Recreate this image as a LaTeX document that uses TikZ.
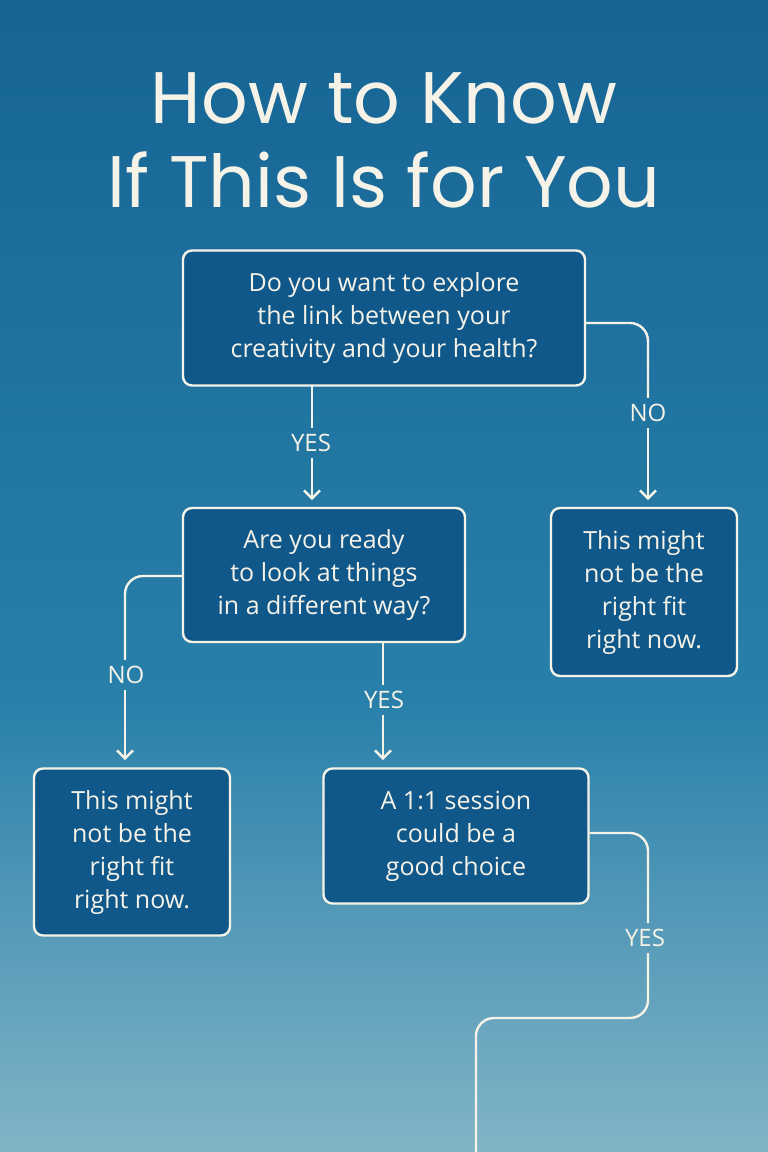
\documentclass[tikz,border=0pt]{standalone}
\usepackage{fontspec}
\setmainfont{Open Sans}
\newfontfamily\titlefont{Poppins}
\usetikzlibrary{arrows.meta,calc}
\definecolor{bgtop}{RGB}{22,100,148}
\definecolor{bgmid}{RGB}{40,128,170}
\definecolor{bgbot}{RGB}{130,180,198}
\definecolor{boxfill}{RGB}{16,88,138}
\definecolor{ink}{RGB}{245,242,232}
\tikzset{
  qbox/.style={draw=ink,line width=2.4pt,fill=boxfill,rounded corners=9pt,text=ink,
    align=center,font=\fontsize{25}{33}\selectfont,inner sep=0pt},
  conn/.style={draw=ink,line width=2.4pt,rounded corners=18pt},
  arr/.style={conn,-{Straight Barb[length=8pt,width=16pt,line width=2.4pt]}},
  lbl/.style={text=ink,font=\fontsize{24}{26}\selectfont,inner sep=6pt}
}
\begin{document}
\begin{tikzpicture}[x=1pt,y=-1pt]
\useasboundingbox (0,0) rectangle (768,1152);
\shade[top color=bgtop,bottom color=bgmid] (0,0) rectangle (768,700);
\shade[top color=bgmid,bottom color=bgbot] (0,700) rectangle (768,1152);
\node[text=ink,align=center,font=\titlefont\fontsize{73}{84}\selectfont] (title) at (384,140) {How to Know\\If This Is for You};
\node[qbox,minimum width=402pt,minimum height=135pt] (q1) at (384,318) {Do you want to explore\\the link between your\\creativity and your health?};
\node[qbox,minimum width=282pt,minimum height=134pt] (q2) at (324,575) {Are you ready\\to look at things\\in a different way?};
\node[qbox,minimum width=186pt,minimum height=168pt] (r1) at (644,592) {This might\\not be the\\right fit\\right now.};
\node[qbox,minimum width=196pt,minimum height=167pt] (r2) at (132,852) {This might\\not be the\\right fit\\right now.};
\node[qbox,minimum width=265pt,minimum height=135pt] (r3) at (456,836) {A 1:1 session\\could be a\\good choice};
\node[lbl] (no1) at (648,413) {NO};
\node[lbl] (yes1) at (311,443) {YES};
\node[lbl] (no2) at (126,675) {NO};
\node[lbl] (yes2) at (384,700) {YES};
\node[lbl] (yes3) at (645,938) {YES};
\coordinate (q1r) at (q1.east |- 0,323);
\coordinate (q1b) at (312,385);
\coordinate (q2l) at (q2.west |- 0,576);
\coordinate (q2b) at (383,642);
\coordinate (r3r) at (r3.east |- 0,833);
\coordinate (endp) at (476,1152);
\draw[conn] (q1r) -| (no1.north);
\draw[arr] (no1.south) -- (648,500);
\draw[conn] (q1b) -- (yes1.north -| q1b);
\draw[arr] (yes1.south -| q1b) -- (312,500);
\draw[conn] (q2l) -| (no2.north -| 125,0);
\draw[arr] (no2.south -| 125,0) -- (125,760);
\draw[conn] (q2b) -- (yes2.north -| q2b);
\draw[arr] (yes2.south -| q2b) -- (383,760);
\draw[conn] (r3r) -| (yes3.north -| 648,0);
\draw[conn] (yes3.south -| 648,0) |- (560,1018) -| (endp);
\end{tikzpicture}
\end{document}
